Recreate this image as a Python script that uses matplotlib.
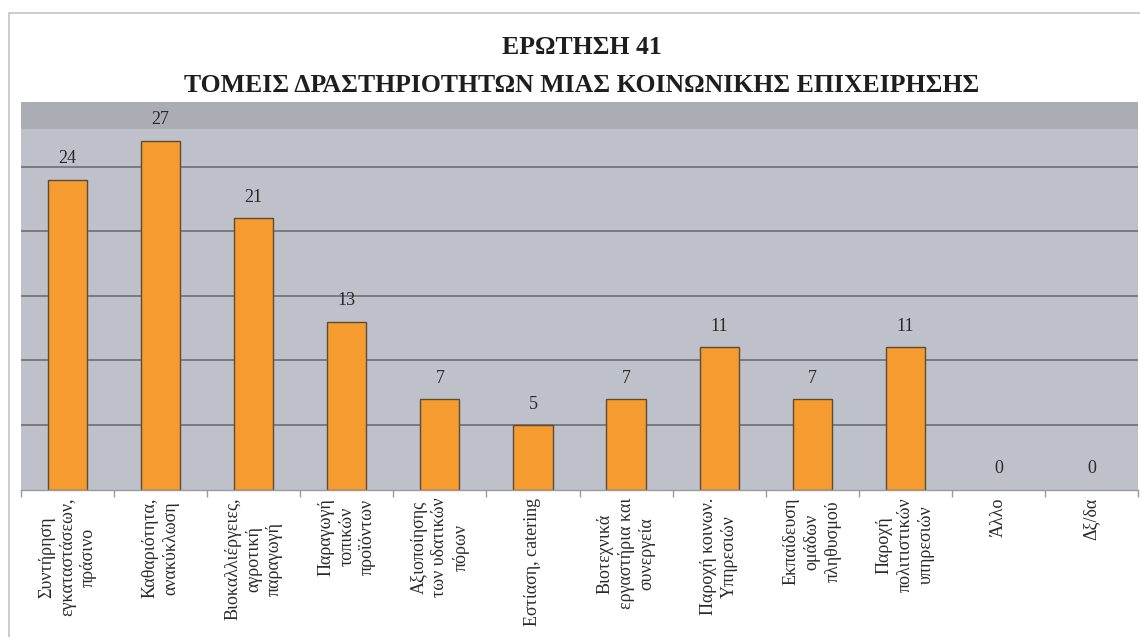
import matplotlib
matplotlib.use("Agg")
import matplotlib.pyplot as plt
from matplotlib.patches import Rectangle
import numpy as np

# Survey question 41: activity sectors of a social enterprise
categories = [
    "Συντήρηση\nεγκαταστάσεων,\nπράσινο",
    "Καθαριότητα,\nανακύκλωση",
    "Βιοκαλλιέργειες,\nαγροτική\nπαραγωγή",
    "Παραγωγή\nτοπικών\nπροϊόντων",
    "Αξιοποίησης\nτων υδατικών\nπόρων",
    "Εστίαση, catering",
    "Βιοτεχνικά\nεργαστήρια και\nσυνεργεία",
    "Παροχή κοινων.\nΥπηρεσιών",
    "Εκπαίδευση\nομάδων\nπληθυσμού",
    "Παροχή\nπολιτιστικών\nυπηρεσιών",
    "Άλλο",
    "Δξ/δα",
]
counts = [24, 27, 21, 13, 7, 5, 7, 11, 7, 11, 0, 0]

title_line1 = "ΕΡΩΤΗΣΗ 41"
title_line2 = "ΤΟΜΕΙΣ ΔΡΑΣΤΗΡΙΟΤΗΤΩΝ ΜΙΑΣ ΚΟΙΝΩΝΙΚΗΣ ΕΠΙΧΕΙΡΗΣΗΣ"

W, H = 1140, 637
plt.rcParams["font.family"] = ["Liberation Serif", "DejaVu Serif"]

fig = plt.figure(figsize=(W / 100, H / 100), dpi=100)
fig.patch.set_facecolor("white")

# outer frame
fig.add_artist(Rectangle((9 / W, -0.01), 1.02, (H - 13) / H + 0.01,
                         transform=fig.transFigure, fill=False,
                         edgecolor="#c4c4c4", linewidth=1.2))

left, right, top, bottom = 21, 1138, 102, 489.5
ax = fig.add_axes([left / W, (H - bottom) / H, (right - left) / W, (bottom - top) / H])
ax.set_facecolor("#bec1c9")

x = np.arange(len(categories))
ax.set_xlim(-0.5, len(categories) - 0.5)
ax.set_ylim(0, 30)

# darker band along the top of the plot area
ax.axhspan(27.9, 30, color="#aaadb4", zorder=0.5, linewidth=0)

for yv in [5, 10, 15, 20, 25]:
    ax.axhline(yv, color="#66686e", linewidth=1.1, zorder=1)

edge_colors = ["#5c4b35" if v > 0 else "none" for v in counts]
bars = ax.bar(x, counts, width=0.42, color="#f59b2f", edgecolor=edge_colors,
              linewidth=1.0, zorder=2)

for xi, v in zip(x, counts):
    ax.annotate(str(v), (xi, v), xytext=(0, 15), textcoords="offset points",
                ha="center", va="center", fontsize=13, color="#2a2a2a")

for s in ["left", "right", "top"]:
    ax.spines[s].set_visible(False)
ax.spines["bottom"].set_color("#9a9a9a")
ax.spines["bottom"].set_linewidth(1.0)

ax.set_yticks([])
ax.set_xticks(x)
ax.set_xticklabels(categories, rotation=90, fontsize=13, color="#2a2a2a",
                   linespacing=1.3, multialignment="center")
ax.tick_params(axis="x", which="major", length=0, pad=6)
ax.set_xticks(np.arange(-0.5, len(categories)), minor=True)
ax.tick_params(axis="x", which="minor", length=5, color="#9a9a9a", width=1.0)

fig.text(582 / W, 1 - 48 / H, title_line1, ha="center", va="center",
         fontsize=18.5, fontweight="bold", color="#1e1e1e")
fig.text(582 / W, 1 - 86 / H, title_line2, ha="center", va="center",
         fontsize=18.5, fontweight="bold", color="#1e1e1e")

fig.savefig("out.png", dpi=100, facecolor=fig.get_facecolor())
